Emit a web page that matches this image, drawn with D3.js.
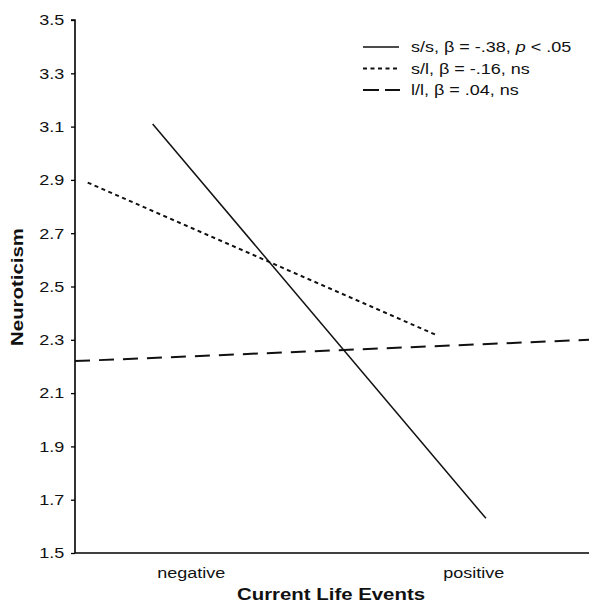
<!DOCTYPE html>
<html>
<head>
<meta charset="utf-8">
<script src="https://cdn.jsdelivr.net/npm/d3@7"></script>
<style>
  body { margin: 0; background: #fff; }
  svg text { font-family: "Liberation Sans", Arial, Helvetica, sans-serif; fill: #111; }
</style>
</head>
<body>
<svg width="589" height="603"></svg>
<script>
// values (x: life events, -1 = negative, +1 = positive)
var xTicks = [-1, 1],
    xTickLabels = ["negative", "positive"],
    yTicks = [1.5, 1.7, 1.9, 2.1, 2.3, 2.5, 2.7, 2.9, 3.1, 3.3, 3.5];

var ssX = [-1.27, 1.09], ssY = [3.11, 1.63];   // s/s
var slX = [-1.73, 0.73], slY = [2.89, 2.32];   // s/l
var llX = [-1.82, 1.82], llY = [2.22, 2.30];   // l/l

var groupNames = ["s/s", "s/l", "l/l"],
    betas = ["-.38", "-.16", ".04"],
    sigs = ["p", "ns", "ns"];

var svg = d3.select("svg"),
    margin = {top: 20, right: 0, bottom: 50, left: 75},
    width = +svg.attr("width"),
    height = +svg.attr("height"),
    sx = 1.2; // glyphs in the figure are a bit wider than Arial

var x = d3.scaleLinear().domain([-1.82, 1.82]).range([margin.left, width - margin.right]),
    y = d3.scaleLinear().domain([1.5, 3.5]).range([height - margin.bottom, margin.top]);

// y axis
var yAxis = svg.append("g")
    .attr("transform", "translate(" + margin.left + ",0)")
    .call(d3.axisLeft(y).tickValues(yTicks).tickFormat(d3.format(".1f")).tickSize(4).tickPadding(5));
yAxis.select(".domain").attr("stroke-width", 1.6).attr("d", "M-4," + y(3.5) + "H0V" + y(1.5));
yAxis.selectAll(".tick line").attr("stroke-width", 1.3);
yAxis.selectAll("text").attr("font-size", 15).attr("transform", "scale(" + sx + ",1)");

// x axis
var xAxis = svg.append("g")
    .attr("transform", "translate(0," + y(1.5) + ")")
    .call(d3.axisBottom(x).tickValues(xTicks).tickFormat(function(d, i) { return xTickLabels[i]; }).tickSize(0).tickPadding(14));
xAxis.select(".domain").attr("stroke-width", 1.6).attr("d", "M" + margin.left + ",0H" + (width - margin.right));
xAxis.selectAll("text").attr("font-size", 15).attr("transform", "scale(" + sx + ",1)");

// axis titles
svg.append("text")
    .attr("transform", "translate(331,600) scale(" + sx + ",1)")
    .attr("text-anchor", "middle")
    .attr("font-size", 17).attr("font-weight", "bold")
    .text("Current Life Events");

svg.append("text")
    .attr("transform", "translate(23,287) rotate(-90) scale(" + sx + ",1)")
    .attr("text-anchor", "middle")
    .attr("font-size", 17).attr("font-weight", "bold")
    .text("Neuroticism");

// lines
var line = d3.line().x(function(d) { return x(d[0]); }).y(function(d) { return y(d[1]); });
var series = [
  {xs: ssX, ys: ssY, dash: null, w: 1.5},
  {xs: slX, ys: slY, dash: "4,3.5", w: 2},
  {xs: llX, ys: llY, dash: "15,9", w: 2}
];

series.forEach(function(s) {
  svg.append("path")
     .datum(d3.zip(s.xs, s.ys))
     .attr("d", line)
     .attr("fill", "none")
     .attr("stroke", "#111")
     .attr("stroke-width", s.w)
     .attr("stroke-dasharray", s.dash);
});

// legend
var legend = svg.append("g");
series.forEach(function(s, i) {
  var ly = 47 + i * 21.5;
  legend.append("line")
     .attr("x1", 363).attr("x2", i === 2 ? 400 : 399)
     .attr("y1", ly).attr("y2", ly)
     .attr("stroke", "#111")
     .attr("stroke-width", s.w)
     .attr("stroke-dasharray", i === 1 ? "4,3.5" : (i === 2 ? "16,6" : null));
  var t = legend.append("text")
     .attr("transform", "translate(411," + (ly + 5) + ") scale(" + sx + ",1)")
     .attr("font-size", 15);
  t.append("tspan").text(groupNames[i] + ", \u03b2 = " + betas[i] + ", ");
  if (sigs[i] === "p") {
    t.append("tspan").attr("font-style", "italic").text("p");
    t.append("tspan").text(" < .05");
  } else {
    t.append("tspan").text(sigs[i]);
  }
});
</script>
</body>
</html>
